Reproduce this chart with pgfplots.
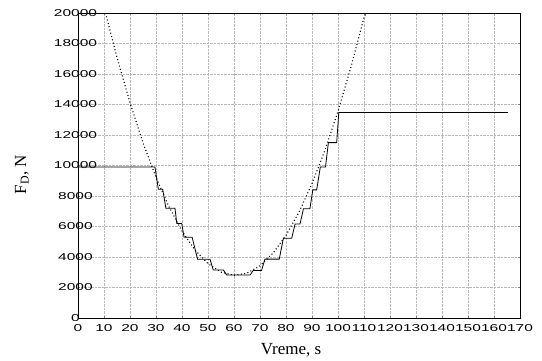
\documentclass[border=0pt]{standalone}
\usepackage{pgfplots}
\pgfplotsset{compat=1.18}
\usepackage{graphicx}
\usepackage{fontspec}
\setmainfont{Liberation Sans}
\newfontfamily\seriffont{Liberation Serif}
\newcommand{\stretchlab}[1]{\setbox0\hbox{#1}\makebox[\wd0][c]{\scalebox{1.55}[1]{\box0}}}
\begin{document}
\begin{tikzpicture}
\path[use as bounding box] (-78pt,-43pt) rectangle (464pt,13pt+305pt);
\begin{axis}[
  at={(0pt,0pt)}, anchor=south west,
  scale only axis, width=442pt, height=305pt,
  xmin=0, xmax=170, ymin=0, ymax=20000,
  xtick={0,10,...,170}, ytick={0,2000,...,20000},
  scaled y ticks=false,
  /pgf/number format/assume math mode=true,
  /pgf/number format/1000 sep={},
  xticklabel={\scalebox{1.55}[1]{\pgfmathprintnumber{\tick}}},
  yticklabel={\stretchlab{\pgfmathprintnumber{\tick}}},
  tick label style={font=\fontsize{10}{10}\selectfont},
  yticklabel style={xshift=1pt},
  xticklabel style={yshift=-3pt},
  grid=major,
  major grid style={densely dotted, gray!55, line width=0.5pt},
  tick align=inside, major tick length=2pt,
  axis line style={line width=0.8pt},
  xlabel={\seriffont Vreme, s},
  ylabel={\seriffont F\textsubscript{D}, N},
  xlabel style={font=\fontsize{17}{18}\selectfont, at={(axis description cs:0.482,-0.105)}, anchor=center},
  ylabel style={font=\fontsize{17}{18}\selectfont, at={(axis description cs:-0.127,0.47)}, anchor=center},
]
\addplot[black, line width=1.1pt, dash pattern=on 1pt off 2.4pt] coordinates {
(10.6,20000) (15,17085) (20,14118) (25,11496) (30,9219) (35,7287) (40,5700)
(45,4458) (50,3561) (55,3009) (60,2802) (65,2940) (70,3423) (75,4251)
(80,5424) (85,6942) (90,8805) (95,11013) (100,13566) (105,16464) (110,19707) (110.9,20000)
};
\addplot[black, line width=0.8pt] coordinates {
(0,9900) (29.6,9900) (30.9,8440) (32.6,8440) (33.8,7200) (37.3,7200)
(38.0,6200) (39.9,6200) (40.8,5290) (43.9,5290) (46,3850) (50.8,3850)
(52,3150) (55.9,3150) (57.2,2820) (66.2,2820) (67.4,3120) (70.6,3120)
(71.9,3860) (77.4,3860) (79,5230) (82.2,5230) (83.5,6170) (85.4,6170)
(86.7,7160) (89.2,7160) (90.3,8400) (91.8,8400) (93.2,9900) (95.2,9900)
(96.3,11500) (99.5,11500) (100.3,13480) (165.3,13480)
};
\end{axis}
\end{tikzpicture}
\end{document}
